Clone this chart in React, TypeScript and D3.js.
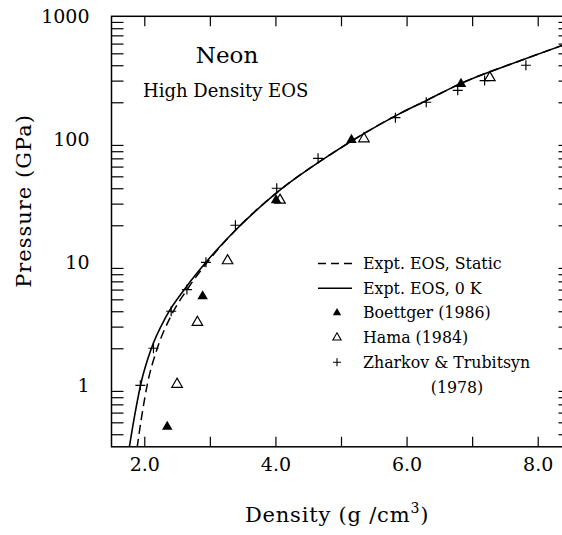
import React, { useRef, useEffect } from "react";
import * as d3 from "d3";

// Expt. EOS, 0 K (solid)
const solidDensity = [1.77, 1.85, 1.95, 2.1, 2.33, 2.64, 2.94, 3.39, 4.03, 4.85, 5.86, 6.32, 6.83, 7.74, 8.39];
const solidPressure = [0.31, 0.556, 1.04, 1.94, 3.6, 6.3, 10, 18.2, 37.2, 75.9, 158, 209, 285, 437, 584];

// Expt. EOS, Static (dashed)
const dashedDensity = [1.89, 1.96, 2.05, 2.19, 2.4, 2.68, 2.96, 3.39, 4.03, 4.85, 5.86, 6.32, 6.83, 7.74, 8.39];
const dashedPressure = [0.31, 0.556, 1.04, 1.94, 3.6, 6.3, 10, 18.2, 37.2, 75.9, 158, 209, 285, 437, 584];

// Boettger (1986)
const boettgerDensity = [2.35, 2.89, 4.01, 5.16, 6.83];
const boettgerPressure = [0.46, 5.3, 32, 99, 282];

// Hama (1984)
const hamaDensity = [2.5, 2.81, 3.27, 4.07, 5.35, 7.27];
const hamaPressure = [1.02, 3.25, 10.3, 32, 101, 317];

// Zharkov & Trubitsyn (1978)
const zharkovDensity = [1.94, 2.14, 2.41, 2.65, 2.94, 3.39, 4.02, 4.65, 5.83, 6.3, 6.78, 7.19, 7.82];
const zharkovPressure = [1.0, 2.0, 4.0, 6.0, 10, 20, 40, 70, 150, 200, 250, 300, 400];

const xTickValues = [2, 3, 4, 5, 6, 7, 8];
const xLabelValues = [2, 4, 6, 8];
const xLabels = ["2.0", "4.0", "6.0", "8.0"];
const yLabelValues = [1, 10, 100, 1000];
const yLabels = ["1", "10", "100", "1000"];

const legendLabels = [
  "Expt. EOS, Static",
  "Expt. EOS, 0 K",
  "Boettger (1986)",
  "Hama (1984)",
  "Zharkov & Trubitsyn",
];

const App = () => {
  const svgRef = useRef(null);

  useEffect(() => {
    const svg = d3.select(svgRef.current);
    svg.selectAll("*").remove();

    const font = "'DejaVu Serif', serif";
    const x = d3.scaleLinear().domain([1.5, 8.5]).range([111.5, 570.5]);
    const y = d3.scaleLog().domain([Math.sqrt(0.1), 1000]).range([446.8, 16.3]);
    const [x0, x1] = x.range();
    const [yb, yt] = y.range();

    svg.append("rect").attr("width", 562).attr("height", 535).attr("fill", "#fff");

    svg
      .append("defs")
      .append("clipPath")
      .attr("id", "plot-clip")
      .append("rect")
      .attr("x", x0)
      .attr("y", yt)
      .attr("width", x1 - x0)
      .attr("height", yb - yt);

    // minor log ticks (no ticks at the decades themselves)
    const yMinor = [];
    [-1, 0, 1, 2].forEach((k) => {
      for (let m = 2; m <= 9; m++) {
        const v = m * Math.pow(10, k);
        if (v >= Math.sqrt(0.1) && v < 1000) yMinor.push(v);
      }
    });

    const style = (g) => {
      g.select(".domain").remove();
      g.selectAll(".tick line").attr("stroke", "#000").attr("stroke-width", 1.2);
      g.selectAll("text").attr("font-family", font).attr("font-size", 19).attr("fill", "#000");
    };

    svg.append("g")
      .attr("transform", `translate(0,${yb})`)
      .call(d3.axisBottom(x).tickValues(xTickValues).tickSize(-10).tickFormat(() => ""))
      .call(style);
    svg.append("g")
      .attr("transform", `translate(0,${yt})`)
      .call(d3.axisTop(x).tickValues(xTickValues).tickSize(-10).tickFormat(() => ""))
      .call(style);
    svg.append("g")
      .attr("transform", `translate(0,${yb})`)
      .call(d3.axisBottom(x).tickValues(xLabelValues).tickSize(0).tickPadding(11)
        .tickFormat((d, i) => xLabels[i]))
      .call(style);

    svg.append("g")
      .attr("transform", `translate(${x0},0)`)
      .call(d3.axisLeft(y).tickValues(yMinor).tickSize(-12).tickFormat(() => ""))
      .call(style);
    svg.append("g")
      .attr("transform", `translate(${x1},0)`)
      .call(d3.axisRight(y).tickValues(yMinor).tickSize(-12).tickFormat(() => ""))
      .call(style);
    svg.append("g")
      .attr("transform", `translate(${x0},0)`)
      .call(d3.axisLeft(y).tickValues(yLabelValues).tickSize(0).tickPadding(22)
        .tickFormat((d, i) => yLabels[i]))
      .call(style);

    // frame
    svg.append("rect")
      .attr("x", x0).attr("y", yt)
      .attr("width", x1 - x0).attr("height", yb - yt)
      .attr("fill", "none").attr("stroke", "#000").attr("stroke-width", 1.5);

    const plot = svg.append("g").attr("clip-path", "url(#plot-clip)");

    const line = d3.line()
      .x((d) => x(d[0]))
      .y((d) => y(d[1]))
      .curve(d3.curveMonotoneX);

    plot.append("path")
      .datum(dashedDensity.map((d, i) => [d, dashedPressure[i]]))
      .attr("fill", "none").attr("stroke", "#000").attr("stroke-width", 1.5)
      .attr("stroke-dasharray", "9,5")
      .attr("d", line);
    plot.append("path")
      .datum(solidDensity.map((d, i) => [d, solidPressure[i]]))
      .attr("fill", "none").attr("stroke", "#000").attr("stroke-width", 1.6)
      .attr("d", line);

    const tri = d3.symbol().type(d3.symbolTriangle).size(48)();
    const triSmall = d3.symbol().type(d3.symbolTriangle).size(30)();
    const cross = "M-5,0H5M0,-5V5";

    plot.selectAll(".boettger")
      .data(boettgerDensity.map((d, i) => [d, boettgerPressure[i]]))
      .enter().append("path")
      .attr("class", "boettger")
      .attr("transform", (d) => `translate(${x(d[0])},${y(d[1])})`)
      .attr("d", tri).attr("fill", "#000");

    plot.selectAll(".hama")
      .data(hamaDensity.map((d, i) => [d, hamaPressure[i]]))
      .enter().append("path")
      .attr("class", "hama")
      .attr("transform", (d) => `translate(${x(d[0])},${y(d[1])})`)
      .attr("d", tri).attr("fill", "none").attr("stroke", "#000").attr("stroke-width", 1.2);

    plot.selectAll(".zharkov")
      .data(zharkovDensity.map((d, i) => [d, zharkovPressure[i]]))
      .enter().append("path")
      .attr("class", "zharkov")
      .attr("transform", (d) => `translate(${x(d[0])},${y(d[1])})`)
      .attr("d", cross).attr("fill", "none").attr("stroke", "#000").attr("stroke-width", 1.2);

    // titles
    svg.append("text")
      .attr("x", 227).attr("y", 63)
      .attr("text-anchor", "middle")
      .attr("font-family", font).attr("font-size", 23)
      .text("Neon");
    svg.append("text")
      .attr("x", 143).attr("y", 97)
      .attr("font-family", font).attr("font-size", 18)
      .text("High Density EOS");

    // legend
    const lx = 318, tx = 363, ly0 = 263.5, dy = 24.7;
    const legend = svg.append("g").attr("font-family", font).attr("font-size", 15.8);
    legend.append("line")
      .attr("x1", lx).attr("x2", lx + 34).attr("y1", ly0).attr("y2", ly0)
      .attr("stroke", "#000").attr("stroke-width", 1.3).attr("stroke-dasharray", "8,5");
    legend.append("line")
      .attr("x1", lx).attr("x2", lx + 34).attr("y1", ly0 + dy).attr("y2", ly0 + dy)
      .attr("stroke", "#000").attr("stroke-width", 1.5);
    legend.append("path")
      .attr("transform", `translate(${lx + 19},${ly0 + 2 * dy})`)
      .attr("d", triSmall).attr("fill", "#000");
    legend.append("path")
      .attr("transform", `translate(${lx + 19},${ly0 + 3 * dy})`)
      .attr("d", triSmall).attr("fill", "none").attr("stroke", "#000").attr("stroke-width", 1.1);
    legend.append("path")
      .attr("transform", `translate(${lx + 19},${ly0 + 4 * dy})`)
      .attr("d", "M-4,0H4M0,-4V4").attr("stroke", "#000").attr("stroke-width", 1.1);
    legendLabels.forEach((t, i) => {
      legend.append("text")
        .attr("x", tx).attr("y", ly0 + i * dy + 5.5)
        .text(t);
    });
    legend.append("text")
      .attr("x", 457).attr("y", ly0 + 5 * dy + 5.5)
      .attr("text-anchor", "middle")
      .text("(1978)");

    // axis titles
    svg.append("text")
      .attr("transform", "translate(31,201) rotate(-90)")
      .attr("text-anchor", "middle")
      .attr("font-family", font).attr("font-size", 21)
      .attr("letter-spacing", 1)
      .text("Pressure (GPa)");
    const xt = svg.append("text")
      .attr("x", 337).attr("y", 522)
      .attr("text-anchor", "middle")
      .attr("font-family", font).attr("font-size", 21)
      .attr("letter-spacing", 0.8);
    xt.append("tspan").text("Density (g /cm");
    xt.append("tspan").attr("dy", -9).attr("font-size", 14).text("3");
    xt.append("tspan").attr("dy", 9).text(")");
  }, []);

  return (
    <svg
      ref={svgRef}
      width={562}
      height={535}
      style={{ position: "absolute", left: 0, top: 0 }}
    ></svg>
  );
};

export default App;
